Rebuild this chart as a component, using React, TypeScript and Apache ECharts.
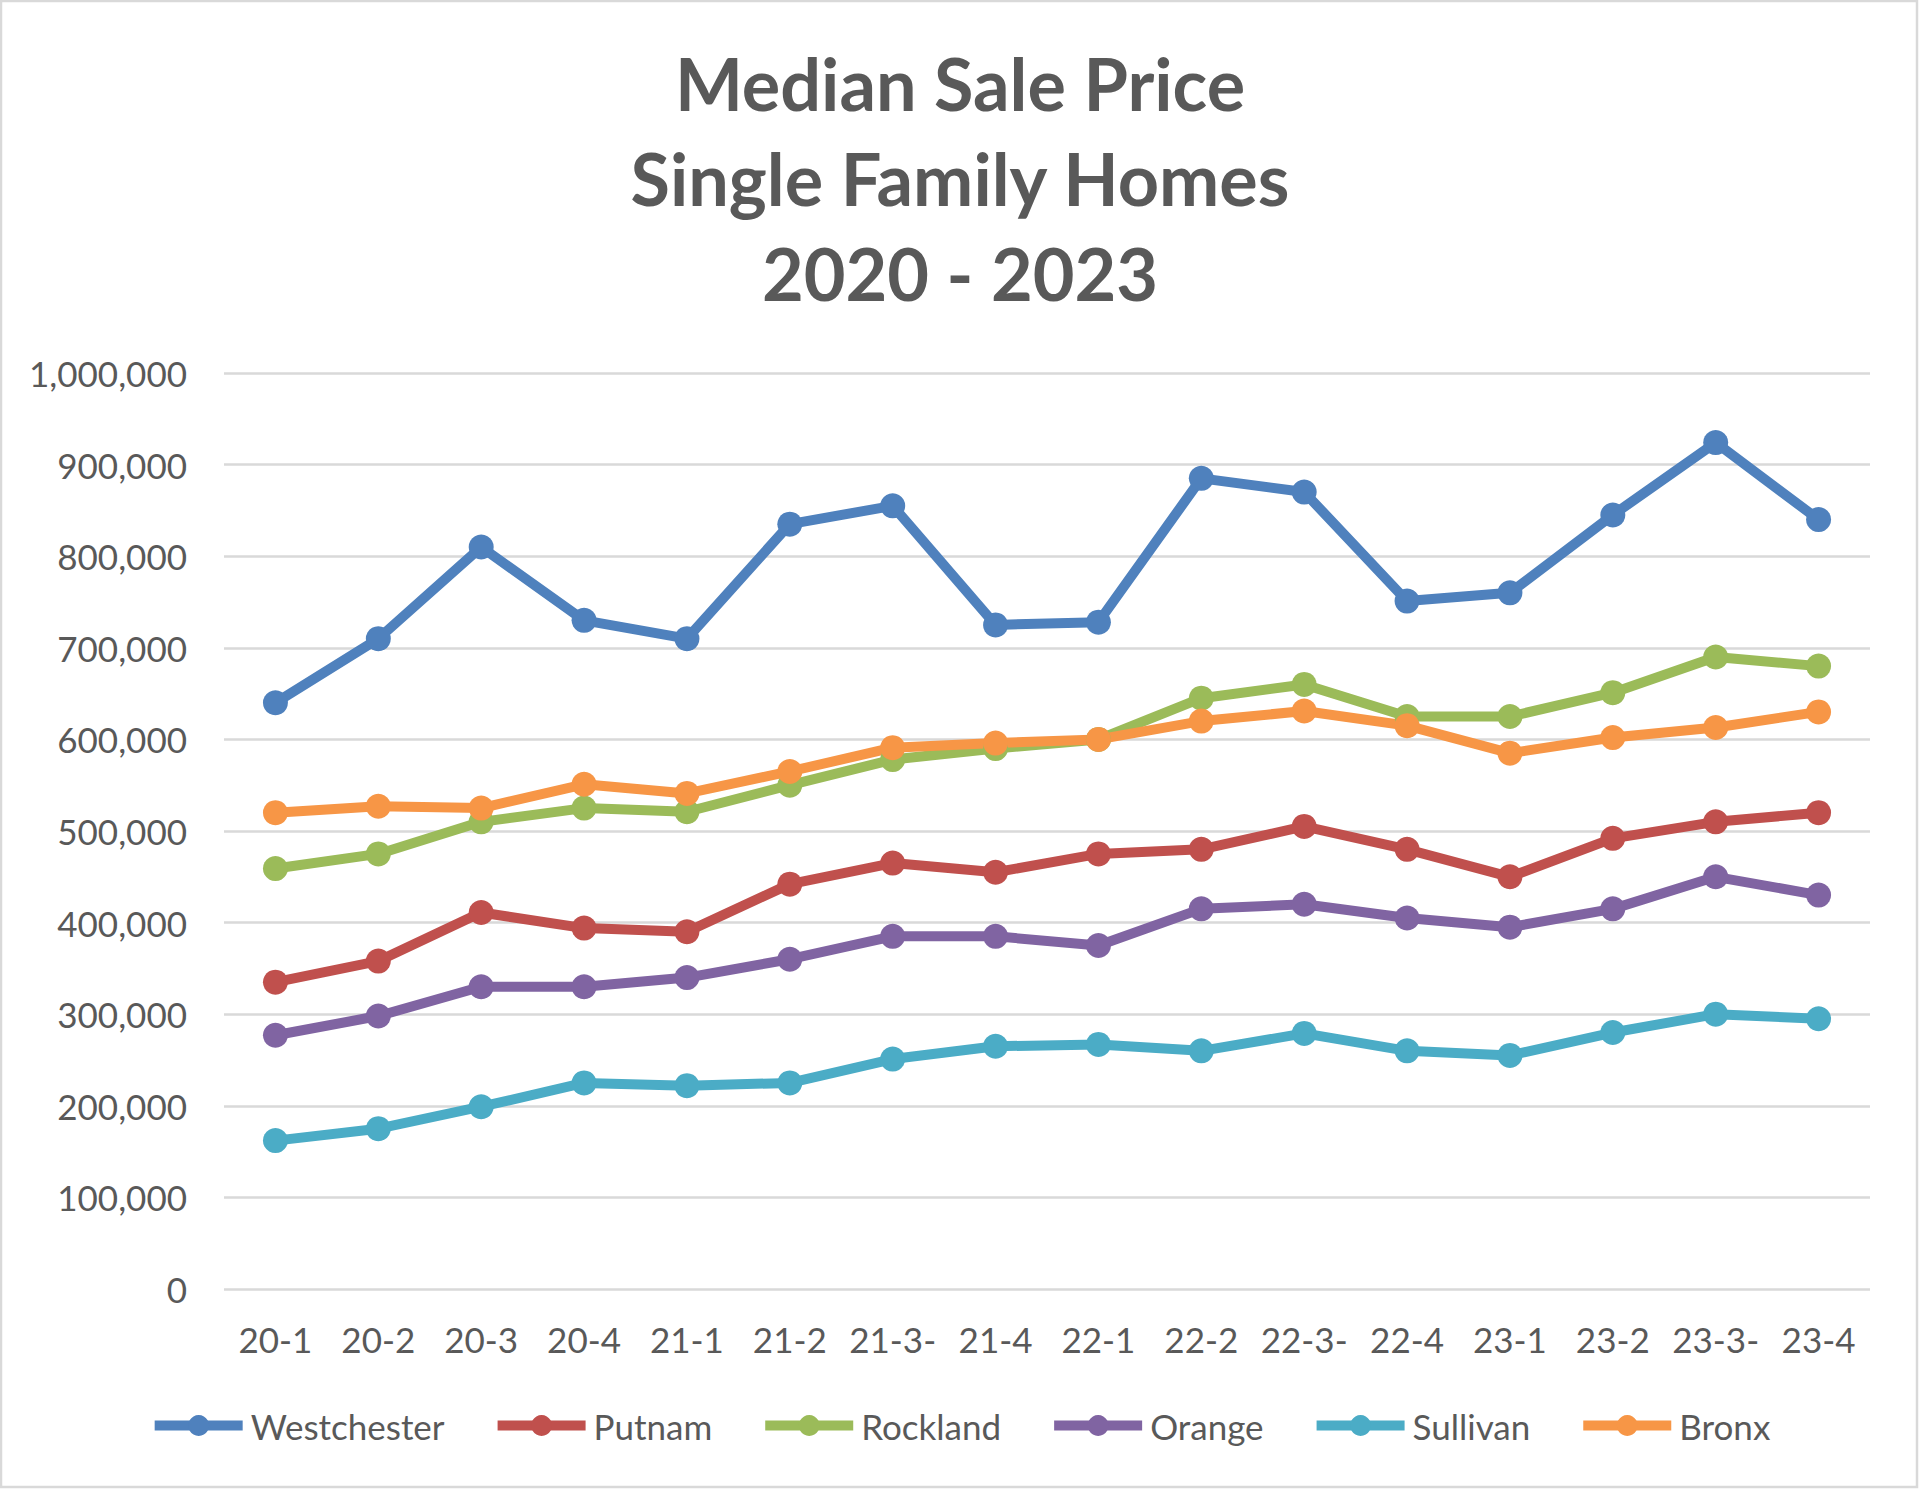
import React, { useEffect, useRef } from "react";
import * as echarts from "echarts";

const categories = ["20-1", "20-2", "20-3", "20-4", "21-1", "21-2", "21-3-", "21-4", "22-1", "22-2", "22-3-", "22-4", "23-1", "23-2", "23-3-", "23-4"];

const westchester = [640000, 710000, 810000, 730000, 710000, 835000, 855000, 725000, 728000, 885000, 870000, 751000, 760000, 845000, 924000, 840000];
const putnam = [335000, 358000, 411000, 394000, 390000, 442000, 465000, 455000, 475000, 480000, 505000, 480000, 450000, 492000, 510000, 520000];
const rockland = [459000, 475000, 510000, 525000, 521000, 550000, 578000, 590000, 600000, 645000, 660000, 625000, 625000, 651000, 690000, 680000];
const orange = [277000, 298000, 330000, 330000, 340000, 360000, 385000, 385000, 375000, 415000, 420000, 405000, 395000, 415000, 450000, 430000];
const sullivan = [162000, 175000, 199000, 225000, 222000, 225000, 251000, 265000, 267000, 260000, 279000, 260000, 255000, 280000, 300000, 295000];
const bronx = [520000, 527000, 525000, 551000, 541000, 565000, 591000, 596000, 600000, 620000, 631000, 615000, 585000, 602000, 613000, 630000];

const seriesDefs = [
  { name: "Westchester", data: westchester, color: "#4F81BD" },
  { name: "Putnam", data: putnam, color: "#C0504D" },
  { name: "Rockland", data: rockland, color: "#9BBB59" },
  { name: "Orange", data: orange, color: "#8064A2" },
  { name: "Sullivan", data: sullivan, color: "#4BACC6" },
  { name: "Bronx", data: bronx, color: "#F79646" },
];

const FONT = "Lato, 'Open Sans', sans-serif";
const TXT = "#595959";

export default function App() {
  const ref = useRef<HTMLDivElement>(null);
  useEffect(() => {
    document.body.style.margin = "0";
    if (!ref.current) return;
    const chart = echarts.init(ref.current, undefined, { renderer: "svg" });
    chart.setOption({
      animation: false,
      backgroundColor: "#FFFFFF",
      title: {
        text: "Median Sale Price\nSingle Family Homes\n2020 - 2023",
        left: "center",
        top: 30,
        textStyle: {
          fontFamily: FONT,
          fontSize: 72,
          fontWeight: "bold",
          color: TXT,
          lineHeight: 95,
        },
      },
      graphic: [
        {
          type: "rect",
          shape: { x: 1, y: 1, width: 1916, height: 1486 },
          style: { fill: "none", stroke: "#D9D9D9", lineWidth: 2.5 },
          silent: true,
        },
      ],
      legend: {
        bottom: 44,
        left: "center",
        itemWidth: 88,
        itemHeight: 26,
        itemGap: 48,
        lineStyle: { width: 10 },
        textStyle: { fontFamily: FONT, fontSize: 35, color: TXT, padding: [0, 0, 0, 3] },
        data: seriesDefs.map((s) => s.name),
      },
      grid: { left: 224, right: 50, top: 373, bottom: 203 },
      xAxis: {
        type: "category",
        data: categories,
        boundaryGap: true,
        axisLine: { show: false },
        axisTick: { show: false },
        axisLabel: { fontFamily: FONT, fontSize: 35, color: TXT, margin: 32, interval: 0 },
      },
      yAxis: {
        type: "value",
        min: 0,
        max: 1000000,
        interval: 100000,
        axisLine: { show: false },
        axisTick: { show: false },
        splitLine: { lineStyle: { color: "#D9D9D9", width: 2.5 } },
        axisLabel: {
          fontFamily: FONT,
          fontSize: 35,
          color: TXT,
          margin: 37,
          formatter: (v: number) => v.toLocaleString("en-US"),
        },
      },
      series: seriesDefs.map((s) => ({
        name: s.name,
        type: "line",
        data: s.data,
        color: s.color,
        symbol: "circle",
        symbolSize: 25,
        lineStyle: { width: 10, color: s.color },
        itemStyle: { color: s.color },
      })),
    });
    return () => chart.dispose();
  }, []);
  return <div ref={ref} style={{ width: 1920, height: 1492 }} />;
}
